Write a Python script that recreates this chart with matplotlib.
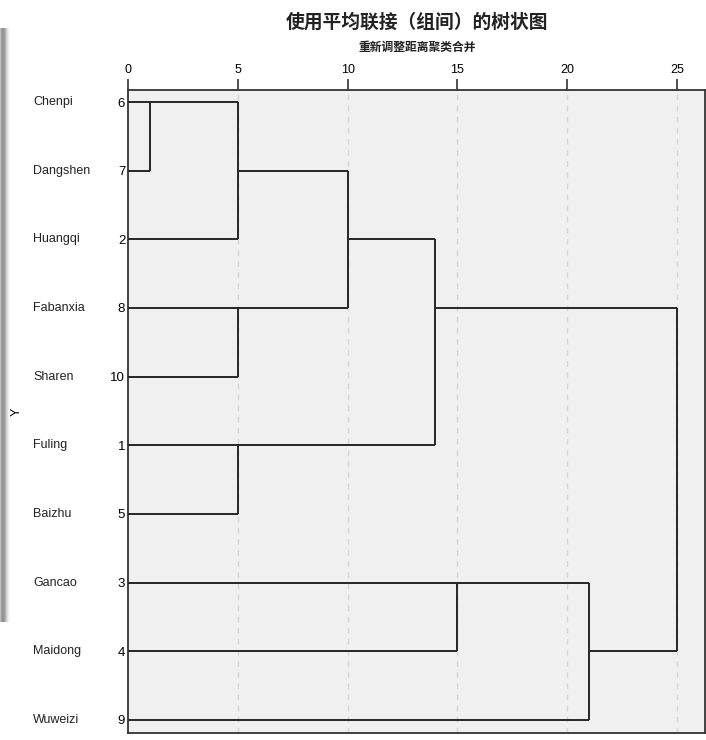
import matplotlib
matplotlib.use("Agg")
import matplotlib.pyplot as plt
import numpy as np
from matplotlib.transforms import blended_transform_factory

plt.rcParams['font.family'] = ['Liberation Sans', 'Noto Sans CJK SC', 'DejaVu Sans']

# ---- data ----
leaf_names = ['Chenpi', 'Dangshen', 'Huangqi', 'Fabanxia', 'Sharen',
              'Fuling', 'Baizhu', 'Gancao', 'Maidong', 'Wuweizi']
case_ids = [6, 7, 2, 8, 10, 1, 5, 3, 4, 9]
# merges: (node_a, node_b, rescaled distance); leaves are 0..9, new clusters 10..
merge_a = [0, 10, 3, 11, 5, 13, 7, 16, 15]
merge_b = [1, 2, 4, 12, 6, 14, 8, 9, 17]
merge_dist = [1, 5, 5, 10, 5, 14, 15, 21, 25]
x_ticks = [0, 5, 10, 15, 20, 25]

title = '使用平均联接（组间）的树状图'
subtitle = '重新调整距离聚类合并'
ylabel = 'Y'

W, H = 706, 740
fig = plt.figure(figsize=(W / 100, H / 100), dpi=100)
fig.patch.set_facecolor('white')

# left shadow decoration (screenshot edge)
sh = fig.add_axes([0, 1 - 622 / H, 14 / W, (622 - 28) / H])
grad = np.array([[0.74, 0.64, 0.58, 0.58, 0.62, 0.70, 0.80, 0.88, 0.94, 0.98, 1.0, 1.0, 1.0, 1.0]])
sh.imshow(grad, cmap='gray', vmin=0, vmax=1, aspect='auto', interpolation='bilinear')
sh.axis('off')

ax = fig.add_axes([128 / W, 1 - 733 / H, (705 - 128) / W, (733 - 90) / H])
ax.set_facecolor('#f0f0f0')

n = len(leaf_names)
ax.set_xlim(0, 26.27)
ax.set_ylim(9.19, -0.175)

for t in x_ticks[1:]:
    ax.axvline(t, color='#d6d6d6', lw=1.0, ls=(0, (4, 4)), zorder=1)

lc = '#262626'
lw = 1.4
pos = {i: float(i) for i in range(n)}
hgt = {i: 0.0 for i in range(n)}
for k, (a, b, d) in enumerate(zip(merge_a, merge_b, merge_dist)):
    node = n + k
    for c in (a, b):
        ax.plot([hgt[c], d], [pos[c], pos[c]], color=lc, lw=lw, zorder=3,
                solid_capstyle='butt')
    ax.plot([d, d], [pos[a], pos[b]], color=lc, lw=lw, zorder=3,
            solid_capstyle='butt')
    pos[node] = float(np.floor((pos[a] + pos[b]) / 2))
    hgt[node] = d

ax.xaxis.tick_top()
ax.set_xticks(x_ticks)
ax.set_xticklabels([str(t) for t in x_ticks], fontsize=9)
ax.tick_params(axis='x', length=8, width=1.2, color='#333333', pad=2)

ax.set_yticks(range(n))
ax.set_yticklabels([str(c) for c in case_ids], fontsize=9.5)
ax.tick_params(axis='y', length=0, pad=2)

for s in ax.spines.values():
    s.set_color('#333333')
    s.set_linewidth(1.3)

trans = blended_transform_factory(fig.transFigure, ax.transData)
for i, name in enumerate(leaf_names):
    fig.text(33 / W, 0, name, transform=trans, fontsize=9, ha='left', va='center',
             color='#222222')
    fig.texts[-1].set_position((33 / W, i))

fig.text(17 / W, 1 - 412 / H, ylabel, rotation=90, fontsize=9, ha='center', va='center')

fig.text(417 / W, 1 - 22 / H, title, fontsize=13.5, ha='center', va='center',
         family=['Noto Sans CJK SC', 'DejaVu Sans'], fontweight='bold', color='#222222')
fig.text(417 / W, 1 - 47 / H, subtitle, fontsize=8.5, ha='center', va='center',
         family=['Noto Sans CJK SC', 'DejaVu Sans'], fontweight='bold', color='#222222')

fig.savefig('out.png', dpi=100)
